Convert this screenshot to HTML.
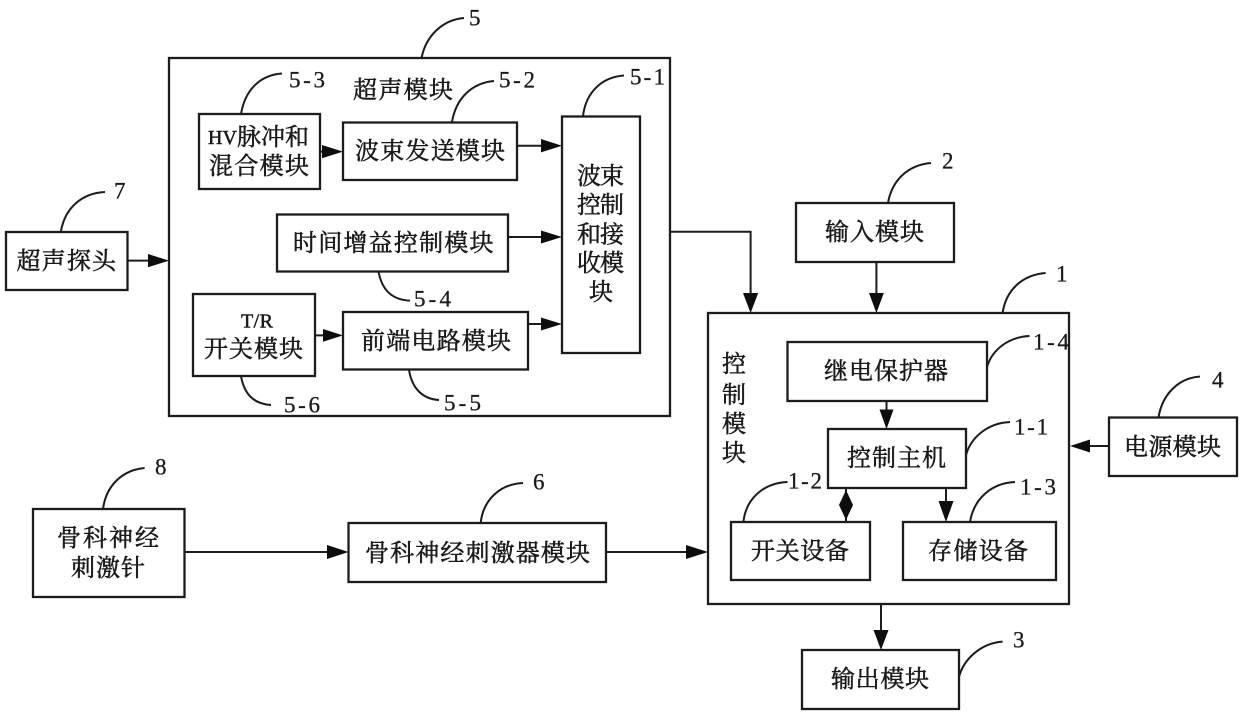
<!DOCTYPE html>
<html lang="zh">
<head>
<meta charset="utf-8">
<title>Diagram</title>
<style>
html,body{margin:0;padding:0;background:#fff;width:1240px;height:716px;overflow:hidden}
svg{display:block}
.b{fill:#fff;stroke:#1a1a1a;stroke-width:2.3}
.l{fill:none;stroke:#1a1a1a;stroke-width:2}
.h{fill:#111;stroke:none}
text{fill:#1a1a1a;stroke:#1a1a1a;stroke-width:.5;dominant-baseline:central}
.t{font-family:"Liberation Serif","Noto Serif CJK SC",serif;font-size:24px}
.n{font-family:"Liberation Serif","Noto Serif CJK SC",serif;font-size:23px;stroke-width:.3}
.s{font-size:20px}
</style>
</head>
<body>
<svg width="1240" height="716" viewBox="0 0 1240 716" xmlns="http://www.w3.org/2000/svg">
<defs><filter id="s" filterUnits="userSpaceOnUse" x="0" y="0" width="1240" height="716"><feGaussianBlur stdDeviation="0.35"/></filter></defs>
<g filter="url(#s)">
<!-- boxes -->
<rect class="b" x="169" y="58" width="501" height="358"/>
<rect class="b" x="199" y="114" width="121" height="75"/>
<rect class="b" x="343" y="122.5" width="174" height="57.5"/>
<rect class="b" x="562" y="116.5" width="78" height="236.5"/>
<rect class="b" x="277" y="214.5" width="231" height="57"/>
<rect class="b" x="193" y="294" width="122" height="82"/>
<rect class="b" x="343" y="312" width="185" height="57.5"/>
<rect class="b" x="6" y="232" width="121.5" height="58"/>
<rect class="b" x="796" y="203" width="158" height="59"/>
<rect class="b" x="708" y="313" width="361" height="291"/>
<rect class="b" x="787.500" y="342" width="199.500" height="59"/>
<rect class="b" x="828" y="429" width="138" height="59"/>
<rect class="b" x="731" y="522" width="139" height="58"/>
<rect class="b" x="903" y="522" width="153" height="58"/>
<rect class="b" x="1109" y="417.500" width="128" height="58.500"/>
<rect class="b" x="802" y="650" width="157" height="59"/>
<rect class="b" x="33" y="509" width="151.500" height="88"/>
<rect class="b" x="348.500" y="523" width="257.500" height="59"/>
<!-- connectors -->
<path class="l" d="M320 151.600H325M517 145.700H545M508 237H545M528 324H545M315 335.400H328M127.500 260.600H152"/>
<path class="l" d="M670 231.700H750.600V296M876.400 262V296M1109 446H1085M886.500 401V412M946 488V504M846 488V522M881 604V632M184.500 552H330M606 552H690"/>
<!-- arrowheads -->
<path class="h" d="M343 151.600L322 145V158.200Z"/>
<path class="h" d="M562 145.700L541 139V152.400Z"/>
<path class="h" d="M562 237L541 230.500V243.500Z"/>
<path class="h" d="M562 324L541 317.500V330.500Z"/>
<path class="h" d="M343 335.400L323 329V341.800Z"/>
<path class="h" d="M169 260.600L148 254V267.200Z"/>
<path class="h" d="M750.600 313L743 293H758.200Z"/>
<path class="h" d="M876.400 313L869 293H883.800Z"/>
<path class="h" d="M1070 446L1090 439.500V452.500Z"/>
<path class="h" d="M886.500 429L879.500 409.500H893.500Z"/>
<path class="h" d="M946 522L938.500 501H953.500Z"/>
<path class="h" d="M846 490L853 505L846 520L839 505Z"/>
<path class="h" d="M881 650L873.500 630H888.500Z"/>
<path class="h" d="M348.500 552L327 545V559Z"/>
<path class="h" d="M708 552L686 545V559Z"/>
<!-- leaders -->
<path class="l" d="M421.500 58C426 36 442 20 464 18"/>
<path class="l" d="M241 114C245 90 260 75 282 73.500"/>
<path class="l" d="M452 122C456 98 472 83 494 81"/>
<path class="l" d="M583 116C586 92 602 77 624 75.500"/>
<path class="l" d="M61 231C65 208 82 193 105 192"/>
<path class="l" d="M378.600 272C382 290 392 300 410 300.600"/>
<path class="l" d="M409 370C412 388 422 399 439 400"/>
<path class="l" d="M241 376C244 394 254 404 271 405"/>
<path class="l" d="M888 203C892 180 908 165 931 163"/>
<path class="l" d="M1002.600 313C1006 290 1022 275 1045.600 273"/>
<path class="l" d="M987 367C992 350 1008 337 1029.500 336"/>
<path class="l" d="M1158.500 417.600C1162 395 1178 378 1200 376.500"/>
<path class="l" d="M966 455C971 437 988 423 1010 422"/>
<path class="l" d="M743.400 522C746 498 764 483 787.500 482"/>
<path class="l" d="M970 522C974 498 992 483 1015 482"/>
<path class="l" d="M959 677C964 658 982 643 1002.600 641.600"/>
<path class="l" d="M480.700 523C483 500 500 484 523 483"/>
<path class="l" d="M103 509C106 486 122 470 144.600 468"/>
<!-- labels -->
<g transform="translate(0 2)">
<text class="t" x="353" y="89" textLength="100" lengthAdjust="spacing">超声模块</text>
<text class="t" x="208" y="136" textLength="101" lengthAdjust="spacing"><tspan class="s">HV</tspan>脉冲和</text>
<text class="t" x="209" y="165" textLength="100" lengthAdjust="spacing">混合模块</text>
<text class="t" x="355" y="150" textLength="150" lengthAdjust="spacing">波束发送模块</text>
<text class="t" x="577" y="175" textLength="47" lengthAdjust="spacing">波束</text>
<text class="t" x="577" y="204" textLength="47" lengthAdjust="spacing">控制</text>
<text class="t" x="577" y="233.500" textLength="47" lengthAdjust="spacing">和接</text>
<text class="t" x="577" y="262" textLength="47" lengthAdjust="spacing">收模</text>
<text class="t" x="589" y="291">块</text>
<text class="t" x="293" y="242" textLength="200.500" lengthAdjust="spacing">时间增益控制模块</text>
<text class="t s" x="241" y="319.500" textLength="32" lengthAdjust="spacing">T/R</text>
<text class="t" x="204" y="348" textLength="99" lengthAdjust="spacing">开关模块</text>
<text class="t" x="361" y="340" textLength="150" lengthAdjust="spacing">前端电路模块</text>
<text class="t" x="16.500" y="260" textLength="99.500" lengthAdjust="spacing">超声探头</text>
<text class="t" x="825" y="231" textLength="99" lengthAdjust="spacing">输入模块</text>
<text class="t" x="824" y="370" textLength="124" lengthAdjust="spacing">继电保护器</text>
<text class="t" x="847" y="457" textLength="99" lengthAdjust="spacing">控制主机</text>
<text class="t" x="751" y="550" textLength="98" lengthAdjust="spacing">开关设备</text>
<text class="t" x="928" y="550" textLength="100" lengthAdjust="spacing">存储设备</text>
<text class="t" x="1124" y="446" textLength="97" lengthAdjust="spacing">电源模块</text>
<text class="t" x="831" y="678" textLength="98" lengthAdjust="spacing">输出模块</text>
<text class="t" x="722" y="363">控</text>
<text class="t" x="722" y="394">制</text>
<text class="t" x="722" y="423">模</text>
<text class="t" x="722" y="452">块</text>
<text class="t" x="57" y="537" textLength="102" lengthAdjust="spacing">骨科神经</text>
<text class="t" x="71" y="567" textLength="74" lengthAdjust="spacing">刺激针</text>
<text class="t" x="365" y="552" textLength="225" lengthAdjust="spacing">骨科神经刺激器模块</text>
<!-- reference numbers -->
<text class="n" x="469" y="16">5</text>
<text class="n" x="289" y="78" textLength="36" lengthAdjust="spacing">5-3</text>
<text class="n" x="499" y="78" textLength="36" lengthAdjust="spacing">5-2</text>
<text class="n" x="630" y="75" textLength="35" lengthAdjust="spacing">5-1</text>
<text class="n" x="114" y="189">7</text>
<text class="n" x="414" y="297" textLength="37" lengthAdjust="spacing">5-4</text>
<text class="n" x="444" y="401" textLength="37" lengthAdjust="spacing">5-5</text>
<text class="n" x="284" y="403" textLength="36" lengthAdjust="spacing">5-6</text>
<text class="n" x="942" y="159">2</text>
<text class="n" x="1056" y="272">1</text>
<text class="n" x="1033" y="340" textLength="36" lengthAdjust="spacing">1-4</text>
<text class="n" x="1212" y="378">4</text>
<text class="n" x="1014" y="425" textLength="34" lengthAdjust="spacing">1-1</text>
<text class="n" x="788" y="479" textLength="34" lengthAdjust="spacing">1-2</text>
<text class="n" x="1020" y="485" textLength="36" lengthAdjust="spacing">1-3</text>
<text class="n" x="1013" y="638">3</text>
<text class="n" x="533" y="480">6</text>
<text class="n" x="155" y="465">8</text>
</g>
</g>
</svg>
</body>
</html>
